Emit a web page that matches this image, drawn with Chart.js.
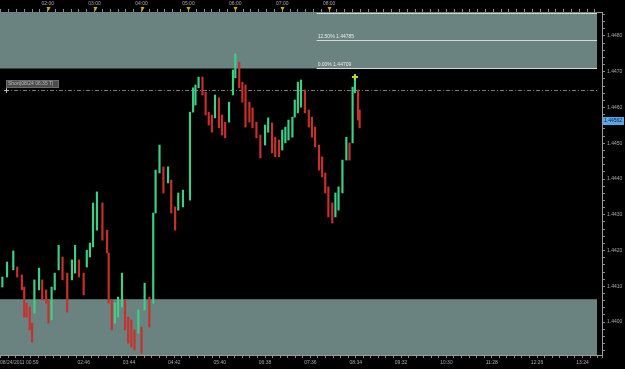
<!DOCTYPE html>
<html>
<head>
<meta charset="utf-8">
<style>
html, body { margin: 0; padding: 0; background: #000; }
canvas { display: block; }
</style>
<script src="https://cdn.jsdelivr.net/npm/chart.js@4.4.1/dist/chart.umd.min.js"></script>
</head>
<body>
<canvas id="chart" width="625" height="369"></canvas>
<script>
// bar times in minutes after midnight, 08/24/2011
const times = [62, 68, 76, 81, 87, 90, 93, 97, 100, 103,
    109, 113, 118, 121, 125, 129, 134, 139, 145, 151,
    155, 160, 166, 170, 174, 178, 183, 190, 196, 198,
    202, 206, 210, 215, 219, 223, 227, 231, 236, 240,
    244, 250, 255, 258, 263, 268, 274, 278, 283, 287,
    293, 302, 306, 309, 313, 318, 322, 326, 330, 334,
    339, 343, 347, 352, 357, 360, 365, 369, 373, 378,
    382, 387, 392, 398, 402, 407, 411, 416, 420, 424,
    428, 433, 436, 440, 444, 449, 454, 458, 462, 467,
    471, 475, 479, 484, 488, 492, 497, 502, 506, 510,
    513, 517, 519];

const highs = [1.44126, 1.44168, 1.44199, 1.44154, 1.44132, 1.44098, 1.44053, 1.44042, 1.43997, 1.44118,
    1.44151, 1.44118, 1.44090, 1.44062, 1.44098, 1.44137, 1.44215, 1.44182, 1.44137, 1.44174,
    1.44215, 1.44174, 1.44137, 1.44201, 1.44221, 1.44333, 1.44364, 1.44333, 1.44257, 1.44193,
    1.44062, 1.44053, 1.44070, 1.44137, 1.44062, 1.44014, 1.44006, 1.43978, 1.44034, 1.43986,
    1.44109, 1.44070, 1.44305, 1.44425, 1.44495, 1.44434, 1.44434, 1.44397, 1.44322, 1.44361,
    1.44369, 1.44587, 1.44655, 1.44663, 1.44685, 1.44685, 1.44643, 1.44587, 1.44579, 1.44635,
    1.44627, 1.44579, 1.44559, 1.44615, 1.44705, 1.44750, 1.44727, 1.44671, 1.44663, 1.44615,
    1.44599, 1.44559, 1.44523, 1.44551, 1.44571, 1.44557, 1.44517, 1.44509, 1.44537, 1.44545,
    1.44565, 1.44573, 1.44621, 1.44671, 1.44677, 1.44649, 1.44593, 1.44573, 1.44545, 1.44495,
    1.44462, 1.44417, 1.44378, 1.44333, 1.44361, 1.44378, 1.44453, 1.44517, 1.44501, 1.44657,
    1.44685, 1.44649, 1.44593];

const lows = [1.44098, 1.44126, 1.44146, 1.44126, 1.44090, 1.44014, 1.44014, 1.43978, 1.43944, 1.44025,
    1.44090, 1.44062, 1.44053, 1.43997, 1.44006, 1.44090, 1.44146, 1.44118, 1.44028, 1.44118,
    1.44137, 1.44126, 1.44076, 1.44154, 1.44182, 1.44210, 1.44257, 1.44229, 1.44193, 1.44053,
    1.43978, 1.43997, 1.44014, 1.44042, 1.43978, 1.43941, 1.43930, 1.43922, 1.43969, 1.43913,
    1.44034, 1.43986, 1.44053, 1.44305, 1.44417, 1.44361, 1.44389, 1.44305, 1.44257, 1.44313,
    1.44322, 1.44341, 1.44587, 1.44607, 1.44655, 1.44635, 1.44579, 1.44551, 1.44531, 1.44571,
    1.44543, 1.44523, 1.44515, 1.44559, 1.44635, 1.44683, 1.44655, 1.44615, 1.44545, 1.44559,
    1.44543, 1.44515, 1.44459, 1.44495, 1.44531, 1.44473, 1.44462, 1.44462, 1.44481, 1.44501,
    1.44509, 1.44517, 1.44573, 1.44585, 1.44601, 1.44585, 1.44545, 1.44517, 1.44490, 1.44425,
    1.44406, 1.44361, 1.44294, 1.44277, 1.44294, 1.44313, 1.44361, 1.44453, 1.44453, 1.44501,
    1.44641, 1.44565, 1.44543];

const yTickValues = [1.4400, 1.4410, 1.4420, 1.4430, 1.4440, 1.4450, 1.4460, 1.4470, 1.4480];
const bottomTickTimes = [59, 166, 224, 282, 340, 398, 456, 514, 572, 630, 688, 746, 804];
const bottomTickLabels = ['08/24/2011 00:59', '02:46', '03:44', '04:42', '05:40', '06:38',
    '07:36', '08:34', '09:32', '10:30', '11:28', '12:26', '13:24'];
const topTickTimes = [120, 180, 240, 300, 360, 420, 480];
const topTickLabels = ['02:00', '03:00', '04:00', '05:00', '06:00', '07:00', '08:00'];

const zones = [[1.44709, 1.44867], [1.43908, 1.44064]];
const fibLevels = [1.44861, 1.44785, 1.44709];
const fibLabels = ['', '12.50% 1.44785', '0.00% 1.44709'];
const fibStart = 464;
const orderPrice = 1.44649;
const orderLabel = 'Short|08/24 06:35 T|';
const signalTimes = [513];
const signalPrices = [1.44685];
const lastPrice = 1.44562;

const xMin = 59, xMax = 829;
const yMin = 1.43908, yMax = 1.44867;

const green = '#3ccf86', red = '#c8302c';
const mids = highs.map((h, i) => (h + lows[i]) / 2);
const barColors = mids.map((m, i) => (i === 0 || m >= mids[i - 1]) ? green : red);

const candles = times.map((t, i) => ({ x: t, y: [lows[i], highs[i]] }));
const signal = signalTimes.map((t, i) => ({ x: t, y: signalPrices[i] }));

Chart.defaults.font.family = 'Liberation Sans';
Chart.defaults.font.size = 5;
Chart.defaults.color = '#a8a8a8';

const overlay = {
    id: 'overlay',
    beforeDatasetsDraw(chart) {
        const { ctx, chartArea: a, scales: { x, y } } = chart;
        const right = a.right - 5;
        ctx.save();
        ctx.fillStyle = '#6a8381';
        zones.forEach(z => {
            const top = y.getPixelForValue(z[1]), bot = y.getPixelForValue(z[0]);
            ctx.fillRect(a.left, top, right - a.left, bot - top);
        });

        const fx = x.getPixelForValue(fibStart);
        ctx.strokeStyle = '#d4dcd2';
        ctx.lineWidth = 1;
        ctx.font = '5px "Liberation Sans"';
        ctx.fillStyle = '#e8ece6';
        ctx.textBaseline = 'bottom';
        fibLevels.forEach((lv, i) => {
            const py = Math.round(y.getPixelForValue(lv)) - 0.5;
            ctx.beginPath();
            ctx.moveTo(fx, py);
            ctx.lineTo(right, py);
            ctx.stroke();
            if (fibLabels[i]) ctx.fillText(fibLabels[i], fx + 1, py - 1);
        });

        const oy = Math.round(y.getPixelForValue(orderPrice)) + 0.5;
        ctx.strokeStyle = '#7a7a7a';
        ctx.setLineDash([4, 2, 1, 2]);
        ctx.beginPath();
        ctx.moveTo(a.left + 5, oy);
        ctx.lineTo(right, oy);
        ctx.stroke();
        ctx.restore();
    },
    afterDraw(chart) {
        const { ctx, chartArea: a, scales: { xTop, y } } = chart;
        ctx.save();
        // session markers on the top axis
        ctx.fillStyle = '#d9a21e';
        topTickTimes.forEach(t => {
            const px = Math.round(xTop.getPixelForValue(t)) + 0.5;
            ctx.beginPath();
            ctx.moveTo(px - 2, a.top - 5);
            ctx.lineTo(px + 2, a.top - 5);
            ctx.lineTo(px, a.top - 1);
            ctx.closePath();
            ctx.fill();
        });

        // order label
        const oy = Math.round(y.getPixelForValue(orderPrice));
        ctx.fillStyle = '#4c4c4c';
        ctx.fillRect(6, oy - 10, 53, 8);
        ctx.strokeStyle = '#6c6c6c';
        ctx.strokeRect(6.5, oy - 9.5, 52, 7);
        ctx.fillStyle = '#bdbdbd';
        ctx.font = '5px "Liberation Sans"';
        ctx.textBaseline = 'middle';
        ctx.fillText(orderLabel, 8, oy - 6);
        ctx.strokeStyle = '#bdbdbd';
        ctx.beginPath();
        ctx.moveTo(4, oy + 0.5); ctx.lineTo(9, oy + 0.5);
        ctx.moveTo(6.5, oy - 2); ctx.lineTo(6.5, oy + 3);
        ctx.stroke();

        // last price box
        const py = Math.round(y.getPixelForValue(lastPrice));
        ctx.fillStyle = '#58a8e8';
        ctx.fillRect(a.right + 1, py - 4, 21, 8);
        ctx.fillStyle = '#0c1c44';
        ctx.fillText(lastPrice.toFixed(5), a.right + 2, py);
        ctx.restore();
    }
};

const axisGrid = { display: true, drawOnChartArea: false, offset: false, color: '#8c8c8c', tickLength: 3 };

new Chart(document.getElementById('chart'), {
    type: 'bar',
    data: {
        datasets: [{
            type: 'scatter',
            data: signal,
            pointStyle: 'cross',
            radius: 3,
            borderWidth: 2,
            borderColor: '#aee02a',
            backgroundColor: '#aee02a',
            xAxisID: 'x',
            yAxisID: 'y',
            order: 0
        }, {
            label: 'EUR/USD',
            data: candles,
            backgroundColor: barColors,
            barThickness: 1.5,
            grouped: false,
            xAxisID: 'x',
            yAxisID: 'y',
            order: 1
        }]
    },
    options: {
        responsive: false,
        animation: false,
        layout: { padding: 0, autoPadding: false },
        plugins: { legend: { display: false }, tooltip: { enabled: false } },
        scales: {
            x: {
                type: 'linear',
                position: 'bottom',
                min: xMin,
                max: xMax,
                offset: false,
                grid: axisGrid,
                border: { color: '#9a9a9a' },
                afterBuildTicks(scale) {
                    const vals = [xMin];
                    const step = 58 / 6;
                    for (let t = 108 - 58; t < xMax; t += step) {
                        if (t > xMin + 2) vals.push(t);
                    }
                    vals.push(xMax);
                    scale.ticks = vals.map(v => ({ value: v }));
                },
                ticks: {
                    align: 'inner',
                    maxRotation: 0,
                    autoSkip: false,
                    padding: 0,
                    font: { size: 5, lineHeight: 2 },
                    callback: v => {
                        const i = bottomTickTimes.findIndex(t => Math.abs(t - v) < 0.5);
                        return i >= 0 ? bottomTickLabels[i] : '';
                    }
                },
                afterFit(scale) { scale.height = 14; }
            },
            xTop: {
                type: 'linear',
                position: 'top',
                min: xMin,
                max: xMax,
                offset: false,
                grid: axisGrid,
                border: { color: '#9a9a9a' },
                afterBuildTicks(scale) {
                    const vals = [];
                    for (let t = 60; t <= 820; t += 10) vals.push(t);
                    scale.ticks = vals.map(v => ({ value: v }));
                },
                ticks: {
                    maxRotation: 0,
                    autoSkip: false,
                    padding: 0,
                    font: { size: 5, lineHeight: 2.2 },
                    callback: v => {
                        const i = topTickTimes.indexOf(v);
                        return i >= 0 ? topTickLabels[i] : '';
                    }
                },
                afterFit(scale) { scale.height = 12; }
            },
            y: {
                type: 'linear',
                position: 'right',
                min: yMin,
                max: yMax,
                grid: axisGrid,
                border: { color: '#9a9a9a' },
                afterBuildTicks(scale) {
                    const vals = [];
                    for (let k = 7196; k <= 7243; k++) vals.push(k * 0.0002);
                    scale.ticks = vals.filter(v => v >= yMin && v <= yMax).map(v => ({ value: v }));
                },
                ticks: {
                    padding: 2,
                    autoSkip: false,
                    callback: v => {
                        const hit = yTickValues.find(t => Math.abs(t - v) < 1e-7);
                        return hit !== undefined ? hit.toFixed(4) : '';
                    }
                },
                afterFit(scale) { scale.width = 23; }
            }
        }
    },
    plugins: [overlay]
});
</script>
</body>
</html>
